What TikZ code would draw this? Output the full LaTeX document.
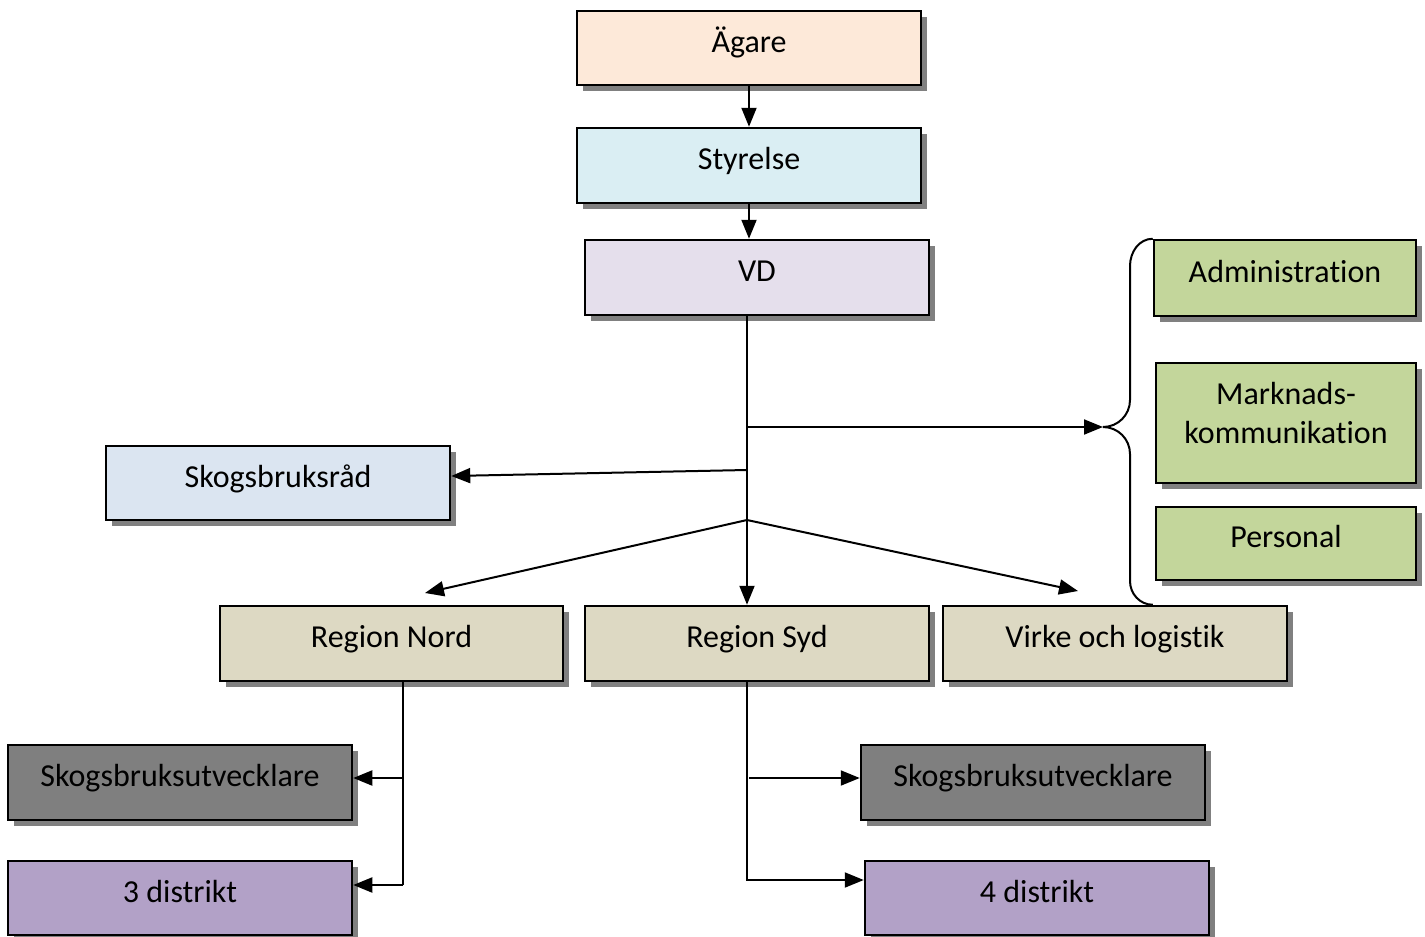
\documentclass[tikz,border=0pt]{standalone}
\usepackage{fontspec}
\setmainfont[Ligatures=NoCommon]{Carlito}
\usetikzlibrary{arrows.meta,shadows,calc}
\definecolor{agarefill}{HTML}{FDE9D9}
\definecolor{styrfill}{HTML}{DAEEF3}
\definecolor{vdfill}{HTML}{E5DFEC}
\definecolor{greenfill}{HTML}{C3D69B}
\definecolor{skrfill}{HTML}{DBE5F1}
\definecolor{regfill}{HTML}{DDD9C3}
\definecolor{sufill}{HTML}{7F7F7F}
\definecolor{distfill}{HTML}{B2A1C7}
\definecolor{shadowgray}{HTML}{808080}
\tikzset{
  box/.style={draw=black, line width=2.5pt, inner sep=0pt, minimum width=344pt, minimum height=75pt,
    text height=24pt, text depth=16pt,
    drop shadow={shadow xshift=6pt, shadow yshift=-6pt, fill=shadowgray, opacity=1}},
  arr/.style={line width=2pt, -{Triangle[length=19pt,width=15pt]}},
  ln/.style={line width=2pt},
}
\begin{document}
\begin{tikzpicture}[x=1pt, y=-1pt, font=\fontsize{32}{39}\selectfont]
\useasboundingbox (0,0) rectangle (1425,937);
% nodes
\node[box, fill=agarefill, minimum height=74pt] (agare) at (749,48) {Ägare};
\node[box, fill=styrfill] (styr) at (749,165.5) {Styrelse};
\node[box, fill=vdfill] (vd) at (757,277.5) {VD};
\node[box, fill=greenfill, minimum width=262pt, minimum height=76pt] (admin) at (1285,278) {Administration};
\node[box, fill=greenfill, minimum width=260pt, minimum height=120pt, align=center, text height=, text depth=21pt] (mark) at (1286,423) {Marknads-\\kommunikation};
\node[box, fill=greenfill, minimum width=260pt, minimum height=73pt] (pers) at (1286,543.5) {Personal};
\node[box, fill=skrfill, minimum height=74pt] (skr) at (278,483) {Skogsbruksråd};
\node[box, fill=regfill, minimum width=343pt] (nord) at (391.5,643.5) {Region Nord};
\node[box, fill=regfill] (syd) at (757,643.5) {Region Syd};
\node[box, fill=regfill] (virke) at (1115,643.5) {Virke och logistik};
\node[box, fill=sufill] (sul) at (180,782.5) {Skogsbruksutvecklare};
\node[box, fill=distfill, minimum height=74pt] (d3) at (180,898) {3 distrikt};
\node[box, fill=sufill] (sur) at (1033,782.5) {Skogsbruksutvecklare};
\node[box, fill=distfill, minimum height=74pt] (d4) at (1037,898) {4 distrikt};
% junction coordinates
\coordinate (j1) at (747,427);
\coordinate (j2) at (747,470);
\coordinate (j3) at (747,520);
\coordinate (bt) at (1103,427);
\coordinate (nordarr) at (425,593);
\coordinate (virkearr) at (1078,591);
\coordinate (n1) at (403,778);
\coordinate (n2) at (403,885);
\coordinate (s1) at (747,880);
\coordinate (s2) at (749,778);
% connectors
\draw[arr] (agare.south) -- (styr.north);
\draw[arr] (styr.south) -- (vd.north -| styr.south);
\draw[arr] (vd.south -| j1) -- (syd.north -| j1);
\draw[arr] (j1) -- (bt);
\draw[arr] (j2) -- ($(skr.east)+(0,-7)$);
\draw[arr] (j3) -- (nordarr);
\draw[arr] (j3) -- (virkearr);
% brace
\draw[ln] (admin.north west) to[out=180,in=90] (1130,266) -- (1130,400) to[out=-90,in=0] (bt)
  to[out=0,in=90] (1130,454) -- (1130,581) to[out=-90,in=180] (virke.north -| admin.west);
% Region Nord branches
\draw[ln] (nord.south -| n1) -- (n2);
\draw[arr] (n1) -- (sul.east |- n1);
\draw[arr] (n2) -- (d3.east |- n2);
% Region Syd branches
\draw[arr] (syd.south -| s1) -- (s1) -- (d4.west |- s1);
\draw[arr] (s2) -- (sur.west |- s2);
\end{tikzpicture}
\end{document}
